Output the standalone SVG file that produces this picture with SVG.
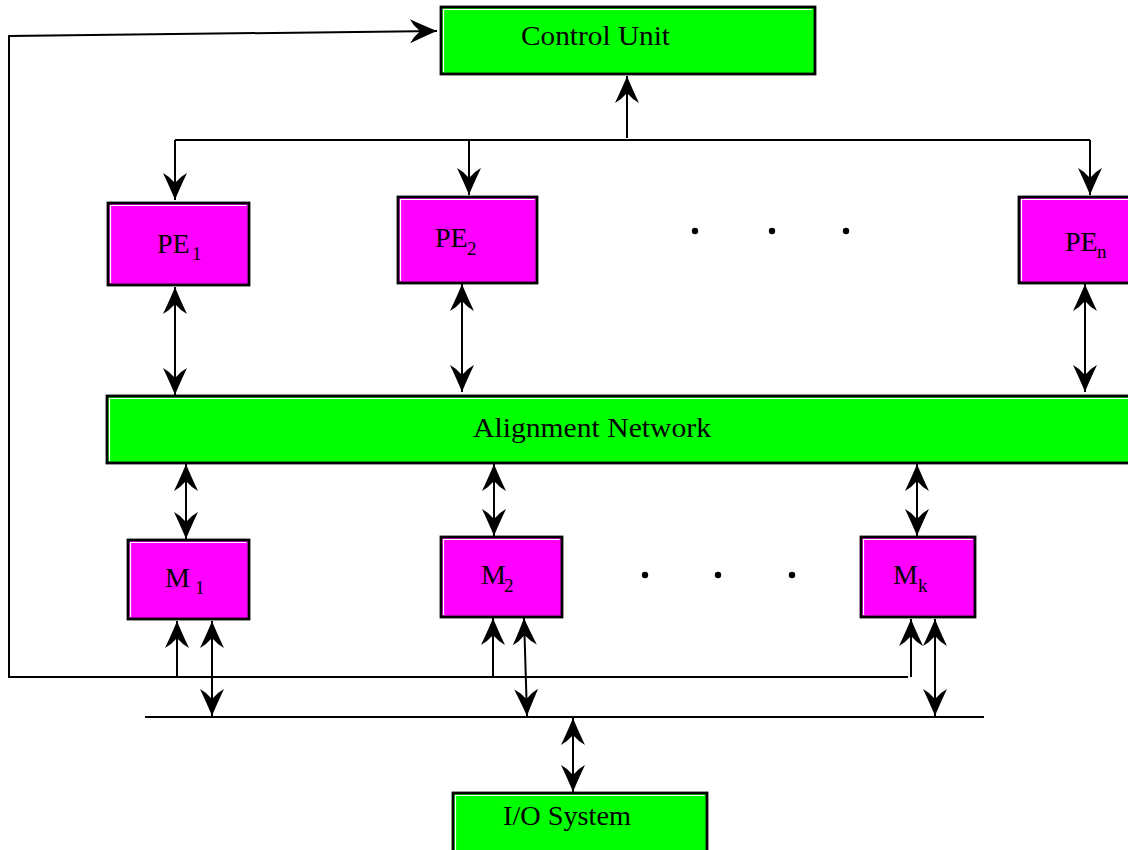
<svg xmlns="http://www.w3.org/2000/svg" width="1128" height="850" viewBox="0 0 1128 850">
  <style>
    .box { stroke: #000; stroke-width: 2.8; }
    .hl { fill: none; stroke: #fff; stroke-width: 1.2; }
    .green { fill: #00ff00; }
    .magenta { fill: #ff00ff; }
    .lbl { font-family: "Liberation Serif", "Times New Roman", serif; font-size: 28px; fill: #000; }
    .sub { font-family: "Liberation Serif", "Times New Roman", serif; font-size: 19px; fill: #000; }
    .wire { fill: none; stroke: #000; stroke-width: 2; }
    .one { marker-end: url(#head); }
    .two { marker-start: url(#head); marker-end: url(#head); }
  </style>
  <defs>
    <!-- swept dart arrowhead, tip at the origin -->
    <marker id="head" markerUnits="userSpaceOnUse" viewBox="-30 -14 32 28" markerWidth="32" markerHeight="28" refX="0" refY="0" orient="auto-start-reverse" overflow="visible">
      <path d="M0,0 Q-10,-4 -27,-12 L-23,-6 Q-19,-2 -17,0 Q-19,2 -23,6 L-27,12 Q-10,4 0,0 Z" fill="#000"/>
    </marker>
  </defs>

  <rect width="1128" height="850" fill="#fff"/>

  <g id="connectors">
    <!-- feedback path from the memory bus back to the control unit -->
    <path class="wire one" d="M908,677 L9,677 L9,36 L437,31"/>
    <!-- control unit broadcast bus -->
    <path class="wire one" d="M627,138 L627,76"/>
    <path class="wire" d="M175,140 L1090,140"/>
    <path class="wire one" d="M175,140 L175,200"/>
    <path class="wire one" d="M469,140 L469,195"/>
    <path class="wire one" d="M1090,140 L1090,195"/>
    <!-- PE to alignment network -->
    <path class="wire two" d="M175,287 L175,395"/>
    <path class="wire two" d="M462,284 L462,392"/>
    <path class="wire two" d="M1085,284 L1085,392"/>
    <!-- alignment network to memories -->
    <path class="wire two" d="M186,464 L186,539"/>
    <path class="wire two" d="M494,464 L494,536"/>
    <path class="wire two" d="M917,464 L917,536"/>
    <!-- memories to buses -->
    <path class="wire one" d="M177,677 L177,621"/>
    <path class="wire two" d="M212,621 L212,716"/>
    <path class="wire one" d="M493,677 L493,618"/>
    <path class="wire two" d="M524,618 L527,716"/>
    <path class="wire one" d="M911,677 L911,619"/>
    <path class="wire two" d="M935,619 L935,716"/>
    <!-- I/O bus -->
    <path class="wire" d="M145,717 L984,717"/>
    <path class="wire two" d="M573,718 L573,792"/>
  </g>

  <g id="control-unit">
    <rect class="box green" x="441" y="7" width="374" height="67"/>
    <path class="hl" d="M443.5,72 V9.5 H812"/>
    <text class="lbl" x="521" y="45" font-size="29.5" textLength="149" lengthAdjust="spacingAndGlyphs">Control Unit</text>
  </g>

  <g id="pe1">
    <rect class="box magenta" x="108" y="203" width="141" height="82"/>
    <path class="hl" d="M110.5,283 V205.5 H246.5"/>
    <text class="lbl" x="157" y="253">PE</text>
    <text class="sub" x="192" y="260">1</text>
  </g>

  <g id="pe2">
    <rect class="box magenta" x="398" y="197" width="139" height="86"/>
    <path class="hl" d="M400.5,281 V199.5 H534.5"/>
    <text class="lbl" x="435" y="247">PE</text>
    <text class="sub" x="467" y="255">2</text>
  </g>

  <g id="pen">
    <rect class="box magenta" x="1019" y="197" width="112" height="86"/>
    <path class="hl" d="M1021.5,281 V199.5 H1131"/>
    <text class="lbl" x="1065" y="251">PE</text>
    <text class="sub" x="1097" y="258">n</text>
  </g>

  <g id="pe-dots">
    <circle cx="695" cy="231" r="3.2"/>
    <circle cx="772" cy="231" r="3.2"/>
    <circle cx="846" cy="231" r="3.2"/>
  </g>

  <g id="alignment-network">
    <rect class="box green" x="107" y="396" width="1025" height="67"/>
    <path class="hl" d="M109.5,461 V398.5 H1131"/>
    <text class="lbl" x="473" y="437" font-size="29.5" textLength="238" lengthAdjust="spacingAndGlyphs">Alignment Network</text>
  </g>

  <g id="m1">
    <rect class="box magenta" x="128" y="540" width="121" height="79"/>
    <path class="hl" d="M130.5,617 V542.5 H246.5"/>
    <text class="lbl" x="165" y="587">M</text>
    <text class="sub" x="195" y="594">1</text>
  </g>

  <g id="m2">
    <rect class="box magenta" x="441" y="537" width="121" height="80"/>
    <path class="hl" d="M443.5,615 V539.5 H559.5"/>
    <text class="lbl" x="481" y="584">M</text>
    <text class="sub" x="504" y="592">2</text>
  </g>

  <g id="mk">
    <rect class="box magenta" x="861" y="537" width="114" height="80"/>
    <path class="hl" d="M863.5,615 V539.5 H972.5"/>
    <text class="lbl" x="893" y="584">M</text>
    <text class="sub" x="918" y="592">k</text>
  </g>

  <g id="m-dots">
    <circle cx="645" cy="575" r="3.2"/>
    <circle cx="718" cy="575" r="3.2"/>
    <circle cx="792" cy="575" r="3.2"/>
  </g>

  <g id="io-system">
    <rect class="box green" x="453" y="793" width="254" height="62"/>
    <path class="hl" d="M455.5,855 V795.5 H704.5"/>
    <text class="lbl" x="503" y="825" textLength="128" lengthAdjust="spacingAndGlyphs">I/O System</text>
  </g>
</svg>
